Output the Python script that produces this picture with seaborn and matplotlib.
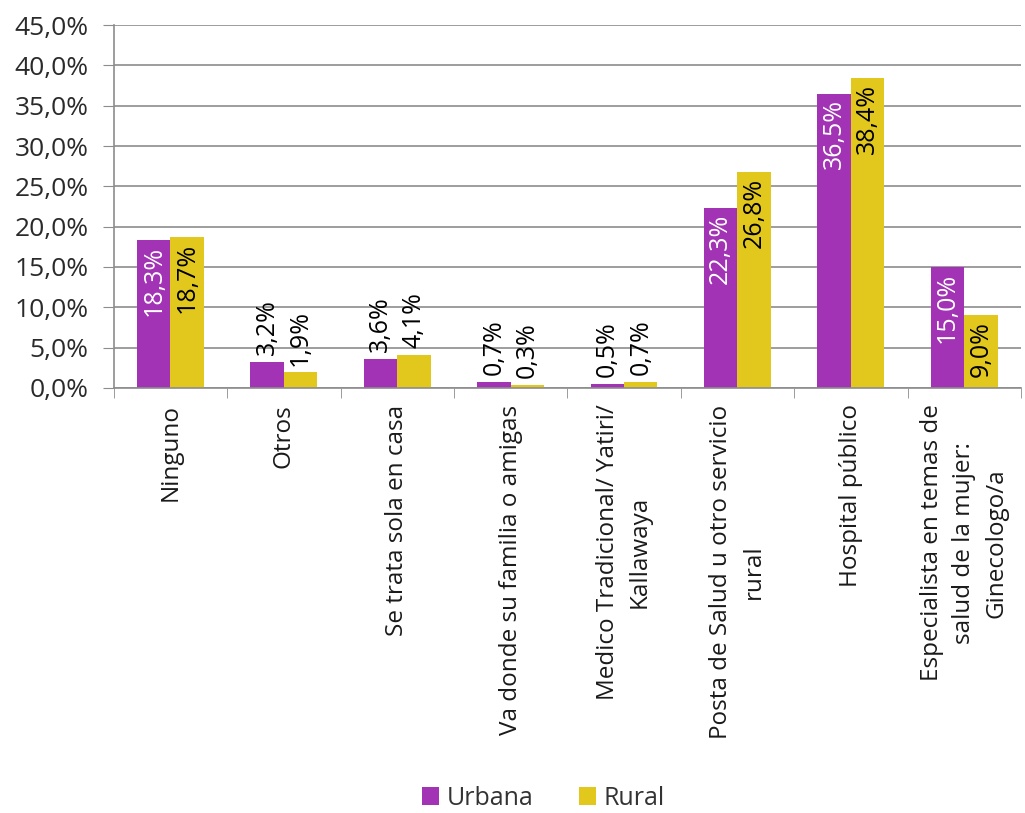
import matplotlib.pyplot as plt
import matplotlib.ticker as mticker
import numpy as np
import pandas as pd
import seaborn as sns

categorias = [
    "Ninguno",
    "Otros",
    "Se trata sola en casa",
    "Va donde su familia o amigas",
    "Medico Tradicional/ Yatiri/\nKallawaya",
    "Posta de Salud u otro servicio\nrural",
    "Hospital público",
    "Especialista en temas de\nsalud de la mujer:\nGinecologo/a",
]
urbana = [18.3, 3.2, 3.6, 0.7, 0.5, 22.3, 36.5, 15.0]
rural = [18.7, 1.9, 4.1, 0.3, 0.7, 26.8, 38.4, 9.0]

colores = {"Urbana": "#A133B4", "Rural": "#E2C81C"}

df = pd.DataFrame({
    "Categoria": categorias * 2,
    "Area": ["Urbana"] * len(urbana) + ["Rural"] * len(rural),
    "Valor": urbana + rural,
})

sns.set_style("white")
plt.rcParams["font.family"] = ["Open Sans", "DejaVu Sans"]

fig = plt.figure(figsize=(10.25, 8.13), dpi=100)
ax = fig.add_axes([0.111, 0.523, 0.885, 0.446])

sns.barplot(df, x="Categoria", y="Valor", hue="Area", palette=colores,
            width=0.59, gap=0, saturation=1, linewidth=0, edgecolor="none",
            ax=ax, legend=True)

ax.set_ylim(0, 45)
ax.yaxis.set_major_locator(mticker.MultipleLocator(5))
ax.yaxis.set_major_formatter(
    mticker.FuncFormatter(lambda v, p: f"{v:.1f}%".replace(".", ",")))
ax.grid(axis="y", color="#8c8c8c", linewidth=1.2)
ax.set_axisbelow(True)
ax.set_xlim(-0.5, len(categorias) - 0.5)
for s in ["top", "right"]:
    ax.spines[s].set_visible(False)
for s in ["left", "bottom"]:
    ax.spines[s].set_color("#8c8c8c")
    ax.spines[s].set_linewidth(1.2)
ax.set_xlabel("")
ax.set_ylabel("")

ax.tick_params(axis="y", length=8, color="#8c8c8c", labelsize=19,
               labelcolor="#2a2a2a", left=True, pad=10)
ax.tick_params(axis="x", length=0, labelsize=17.5, pad=12, labelcolor="#1a1a1a")
ax.set_xticks(range(len(categorias)))
ax.set_xticklabels(categorias, rotation=90, ha="center", va="top",
                   multialignment="center", linespacing=1.45)
ax.set_xticks(np.arange(-0.5, len(categorias), 1), minor=True)
ax.tick_params(axis="x", which="minor", length=7, color="#8c8c8c", bottom=True)

for cont, area in zip(ax.containers, ["Urbana", "Rural"]):
    for bar in cont:
        v = bar.get_height()
        txt = f"{v:.1f}%".replace(".", ",")
        x = bar.get_x() + bar.get_width() / 2
        if v > 8:
            color = "white" if area == "Urbana" else "black"
            ax.annotate(txt, (x, v), xytext=(0, -4), textcoords="offset points",
                        rotation=90, ha="center", va="top", fontsize=18,
                        color=color)
        else:
            ax.annotate(txt, (x, v), xytext=(0, 5), textcoords="offset points",
                        rotation=90, ha="center", va="bottom", fontsize=18,
                        color="black")

leg = ax.legend(loc="center", bbox_to_anchor=(0.53, 0.018), ncol=2,
                bbox_transform=fig.transFigure, frameon=False, fontsize=18,
                handlelength=0.7, handleheight=0.7, handletextpad=0.3,
                columnspacing=1.8, labelcolor="#333333")

fig.savefig("out.png", dpi=100)
